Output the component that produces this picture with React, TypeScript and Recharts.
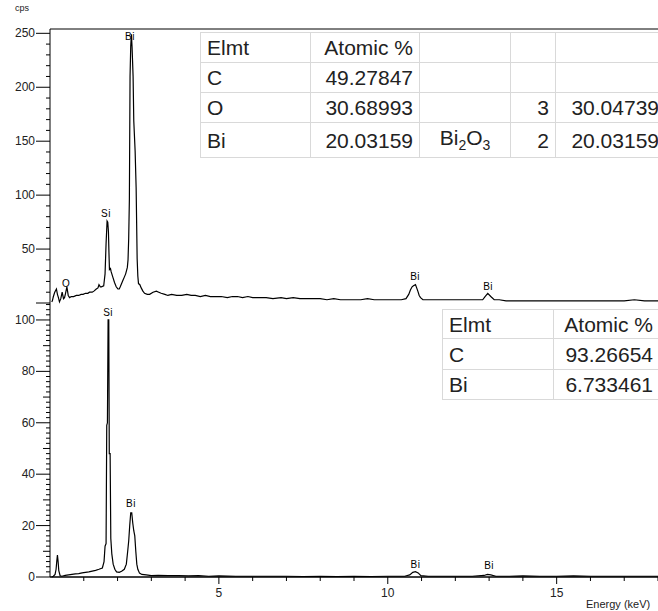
import React from 'react';
import { LineChart, Line, XAxis, YAxis, ReferenceLine, ReferenceDot } from 'recharts';

// top spectrum (energy keV / cps)
const topEnergy = [
  0.05, 0.07, 0.1, 0.14, 0.19, 0.22, 0.25, 0.28, 0.32, 0.36, 0.4, 0.43, 0.46, 0.5, 0.54, 0.58, 0.63, 0.7, 0.78, 0.85,
  0.92, 0.98, 1.05, 1.12, 1.17, 1.25, 1.3, 1.37, 1.42, 1.45, 1.49, 1.52, 1.59, 1.63, 1.66, 1.69, 1.71, 1.73, 1.745, 1.76,
  1.79, 1.81, 1.86, 1.91, 1.96, 2.01, 2.05, 2.08, 2.12, 2.16, 2.2, 2.24, 2.29, 2.31, 2.33, 2.35, 2.37, 2.39, 2.41, 2.43,
  2.46, 2.48, 2.52, 2.55, 2.58, 2.6, 2.62, 2.66, 2.7, 2.75, 2.8, 2.88, 2.95, 3.05, 3.15, 3.22, 3.29, 3.4, 3.49, 3.6,
  3.75, 3.9, 4.05, 4.18, 4.3, 4.45, 4.6, 4.75, 4.9, 5.07, 5.25, 5.4, 5.55, 5.7, 5.86, 6.0, 6.2, 6.4, 6.6, 6.84,
  7.0, 7.2, 7.4, 7.6, 7.82, 8.0, 8.2, 8.4, 8.6, 8.82, 9.0, 9.2, 9.4, 9.6, 9.8, 10.0, 10.2, 10.4, 10.54, 10.62,
  10.67, 10.72, 10.76, 10.82, 10.89, 10.93, 10.97, 11.04, 11.2, 11.4, 11.6, 11.8, 12.0, 12.2, 12.4, 12.6, 12.81, 12.88, 12.96, 13.05,
  13.15, 13.3, 13.5, 13.7, 14.0, 14.3, 14.6, 14.9, 15.2, 15.5, 15.8, 16.1, 16.4, 16.7, 17.0, 17.3, 17.6, 18.0,
];
const topCps = [
  1, 2, 6, 10, 13, 8, 5, 1, 4, 10, 4, 5, 9, 15, 7, 5, 6, 6, 7, 7,
  8, 8, 9, 9, 10, 10, 11, 13, 14, 17, 15, 15, 16, 27, 55, 76, 75, 66, 47, 31,
  32, 29, 24, 19, 15, 13, 13, 15, 18, 21, 24, 27, 33, 40, 60, 96, 210, 238, 249, 237,
  210, 169, 141, 107, 41, 25, 18, 17, 14, 11, 9, 8, 8, 10, 11, 10, 9, 8, 7, 8,
  7, 7, 8, 7, 7, 6, 7, 6, 6, 6, 5, 6, 6, 5, 6, 5, 5, 5, 4, 5,
  4, 5, 4, 4, 4, 4, 3, 4, 3, 3, 3, 3, 4, 3, 3, 3, 3, 3, 4, 8,
  12, 15, 16, 17, 11, 7, 5, 3, 3, 3, 3, 3, 3, 3, 3, 3, 3, 6, 9, 6,
  3, 3, 2, 2, 2, 2, 2, 2, 2, 2, 2, 2, 2, 2, 2, 3, 2, 2,
];

// bottom spectrum
const bottomEnergy = [
  0.05, 0.1, 0.15, 0.18, 0.2, 0.22, 0.24, 0.26, 0.3, 0.35, 0.45, 0.55, 0.65, 0.75, 0.85, 0.95, 1.05, 1.15, 1.25, 1.35,
  1.45, 1.55, 1.6, 1.63, 1.66, 1.68, 1.7, 1.72, 1.74, 1.755, 1.78, 1.8, 1.83, 1.87, 1.92, 1.97, 2.05, 2.12, 2.2, 2.26,
  2.3, 2.33, 2.36, 2.39, 2.42, 2.45, 2.48, 2.51, 2.54, 2.57, 2.6, 2.65, 2.72, 2.85, 3.0, 3.2, 3.5, 3.8, 4.1, 4.4,
  4.7, 5.0, 5.5, 6.0, 6.5, 7.0, 7.5, 8.0, 8.5, 9.0, 9.5, 10.0, 10.5, 10.65, 10.74, 10.82, 10.9, 10.98, 11.2, 11.6,
  12.0, 12.5, 12.85, 12.95, 13.05, 13.2, 13.6, 14.0, 14.5, 15.0, 15.5, 16.0, 16.5, 17.0, 17.5, 18.0,
];
const bottomCps = [
  0, 0.3, 1, 3, 6, 8.5, 6, 2.5, 0.5, 0.3, 0.6, 0.8, 1, 1.2, 1.3, 1.6, 1.8, 2, 2.3, 2.6,
  3, 3.5, 6, 12, 13, 59, 60, 100, 100, 48, 48, 15, 9, 5, 3, 2, 1.8, 2.2, 3, 5,
  10, 14, 20, 25, 25, 21, 18, 16, 10, 5, 3, 1.5, 1, 0.8, 0.5, 0.6, 0.5, 0.5, 0.4, 0.5,
  0.3, 0.4, 0.3, 0.3, 0.3, 0.3, 0.2, 0.3, 0.2, 0.3, 0.2, 0.3, 0.3, 0.8, 1.8, 2.1, 1.6, 0.5, 0.3, 0.3,
  0.3, 0.3, 0.6, 1, 0.8, 0.3, 0.3, 0.4, 0.3, 0.3, 0.4, 0.3, 0.3, 0.3, 0.3, 0.3,
];

// peak labels
const topPeakText = ['O', 'Si', 'Bi', 'Bi', 'Bi'];
const topPeakEnergy = [0.48, 1.66, 2.37, 10.81, 12.97];
const topPeakCps = [14, 79, 243, 20, 11];
const bottomPeakText = ['Si', 'Bi', 'Bi', 'Bi'];
const bottomPeakEnergy = [1.72, 2.4, 10.82, 13.0];
const bottomPeakCps = [101, 27, 3.1, 2.7];

// axes
const topYLabels = [50, 100, 150, 200, 250];
const bottomYLabels = [0, 20, 40, 60, 80, 100];
const xLabels = [5, 10, 15];

// tables
const topTable = [
  ['Elmt', 'Atomic %', '', '', ''],
  ['C', '49.27847', '', '', ''],
  ['O', '30.68993', '', '3', '30.04739'],
  ['Bi', '20.03159', 'Bi2O3', '2', '20.03159'],
];
const bottomTable = [
  ['Elmt', 'Atomic %'],
  ['C', '93.26654'],
  ['Bi', '6.733461'],
];

const topData = topEnergy.map((e, i) => ({ e, v: topCps[i] }));
const bottomData = bottomEnergy.map((e, i) => ({ e, v: bottomCps[i] }));

const TOP_MAX = 254;
const BOTTOM_MAX = 106.6;
const FONT = '"Liberation Sans", Arial, sans-serif';

const topTicks: number[] = [];
for (let v = 0; v <= 250; v += 10) topTicks.push(v);
const bottomTicks: number[] = [];
for (let v = 0; v <= 106; v += 2) bottomTicks.push(v);
const xTicks: number[] = [];
for (let v = 1; v <= 18; v++) xTicks.push(v);

const makeYTick = (labels: number[], majors: number[], mids: number[]) => (props: any) => {
  const { x, y, payload } = props;
  const v = payload.value;
  const len = majors.includes(v) ? 14 : mids.includes(v) ? 7 : 4;
  return (
    <g>
      <line x1={x - len} x2={x} y1={y} y2={y} stroke="#000" strokeWidth={1} />
      {labels.includes(v) && (
        <text x={x - 15} y={y + 4} textAnchor="end" fontSize={12} fill="#222" fontFamily={FONT}>
          {v}
        </text>
      )}
    </g>
  );
};

const XTick = (props: any) => {
  const { x, y, payload } = props;
  const v = payload.value;
  const major = xLabels.includes(v);
  return (
    <g>
      <line x1={x} x2={x} y1={y} y2={y + (major ? 7 : 4)} stroke="#000" strokeWidth={1} />
      {major && (
        <text x={x} y={y + 20} textAnchor="middle" fontSize={12} fill="#222" fontFamily={FONT}>
          {v}
        </text>
      )}
    </g>
  );
};

const PeakLabel = (props: any) => {
  const { viewBox, value } = props;
  const cx = viewBox.x + viewBox.width / 2;
  const cy = viewBox.y;
  return (
    <text x={cx} y={cy - 1} textAnchor="middle" fontSize={10} fill="#000" fontFamily={FONT} letterSpacing={0.5}>
      {value}
    </text>
  );
};

const cellBase: React.CSSProperties = {
  border: '1px solid #d9d9d9',
  padding: '0 6px',
  fontSize: 21,
  lineHeight: 1,
  color: '#222',
  whiteSpace: 'nowrap',
  overflow: 'hidden',
};

function renderCell(text: string) {
  if (text === 'Bi2O3') {
    return (
      <>
        Bi<sub style={{ fontSize: 14 }}>2</sub>O<sub style={{ fontSize: 14 }}>3</sub>
      </>
    );
  }
  return text;
}

export default function App() {
  const topAligns = ['left', 'right', 'center', 'right', 'right'];
  const topWidths = [110, 109, 91, 45, 110];
  const topHeights = [30, 30, 30, 35];
  const bottomWidths = [111, 106];
  const bottomHeights = [29, 31, 30];

  return (
    <div
      style={{
        position: 'absolute',
        left: 0,
        top: 0,
        width: 658,
        height: 611,
        overflow: 'hidden',
        background: '#fff',
        fontFamily: FONT,
      }}
    >
      <div style={{ position: 'absolute', left: 15, top: 3, fontSize: 9, color: '#222' }}>cps</div>

      <div style={{ position: 'absolute', left: 0, top: 0 }}>
        <LineChart width={658} height={311} data={topData} margin={{ top: 29, right: 0, bottom: 8, left: 0 }}>
          <XAxis
            type="number"
            dataKey="e"
            domain={[0, 18]}
            height={0}
            tick={false}
            tickLine={false}
            axisLine={{ stroke: '#000', strokeWidth: 1.5 }}
          />
          <YAxis
            type="number"
            domain={[0, TOP_MAX]}
            ticks={topTicks}
            interval={0}
            width={50}
            tickSize={0}
            tickMargin={0}
            tickLine={false}
            axisLine={{ stroke: '#000' }}
            tick={makeYTick(topYLabels, [0, 50, 100, 150, 200, 250], [])}
          />
          <ReferenceLine y={TOP_MAX} stroke="#000" strokeWidth={1} />
          <Line type="linear" dataKey="v" stroke="#000" strokeWidth={1.2} dot={false} isAnimationActive={false} />
          {topPeakText.map((t, i) => (
            <ReferenceDot
              key={i}
              x={topPeakEnergy[i]}
              y={topPeakCps[i]}
              r={0}
              fill="none"
              stroke="none"
              label={<PeakLabel value={t} />}
            />
          ))}
        </LineChart>
      </div>

      <div style={{ position: 'absolute', left: 0, top: 295 }}>
        <LineChart width={658} height={316} data={bottomData} margin={{ top: 8, right: 0, bottom: 0, left: 0 }}>
          <XAxis
            type="number"
            dataKey="e"
            domain={[0, 18]}
            ticks={xTicks}
            interval={0}
            height={34}
            tickSize={0}
            tickMargin={0}
            tickLine={false}
            axisLine={{ stroke: '#000', strokeWidth: 1.5 }}
            tick={<XTick />}
          />
          <YAxis
            type="number"
            domain={[0, BOTTOM_MAX]}
            ticks={bottomTicks}
            interval={0}
            width={50}
            tickSize={0}
            tickMargin={0}
            tickLine={false}
            axisLine={{ stroke: '#000' }}
            tick={makeYTick(bottomYLabels, bottomYLabels, [10, 30, 50, 70, 90])}
          />
          <Line type="linear" dataKey="v" stroke="#000" strokeWidth={1.2} dot={false} isAnimationActive={false} />
          {bottomPeakText.map((t, i) => (
            <ReferenceDot
              key={i}
              x={bottomPeakEnergy[i]}
              y={bottomPeakCps[i]}
              r={0}
              fill="none"
              stroke="none"
              label={<PeakLabel value={t} />}
            />
          ))}
        </LineChart>
      </div>

      <table
        style={{
          position: 'absolute',
          left: 200,
          top: 32,
          borderCollapse: 'collapse',
          tableLayout: 'fixed',
          width: topWidths.reduce((a, b) => a + b, 0),
          background: '#fff',
        }}
      >
        <colgroup>
          {topWidths.map((w, i) => (
            <col key={i} style={{ width: w }} />
          ))}
        </colgroup>
        <tbody>
          {topTable.map((row, r) => (
            <tr key={r} style={{ height: topHeights[r] }}>
              {row.map((c, k) => (
                <td key={k} style={{ ...cellBase, textAlign: topAligns[k] as any }}>
                  {renderCell(c)}
                </td>
              ))}
            </tr>
          ))}
        </tbody>
      </table>

      <table
        style={{
          position: 'absolute',
          left: 442,
          top: 309,
          borderCollapse: 'collapse',
          tableLayout: 'fixed',
          width: bottomWidths.reduce((a, b) => a + b, 0),
          background: '#fff',
        }}
      >
        <colgroup>
          {bottomWidths.map((w, i) => (
            <col key={i} style={{ width: w }} />
          ))}
        </colgroup>
        <tbody>
          {bottomTable.map((row, r) => (
            <tr key={r} style={{ height: bottomHeights[r] }}>
              {row.map((c, k) => (
                <td key={k} style={{ ...cellBase, textAlign: k === 0 ? 'left' : 'right' }}>
                  {c}
                </td>
              ))}
            </tr>
          ))}
        </tbody>
      </table>

      <div style={{ position: 'absolute', left: 586, top: 598, fontSize: 11, color: '#222' }}>Energy (keV)</div>
    </div>
  );
}
